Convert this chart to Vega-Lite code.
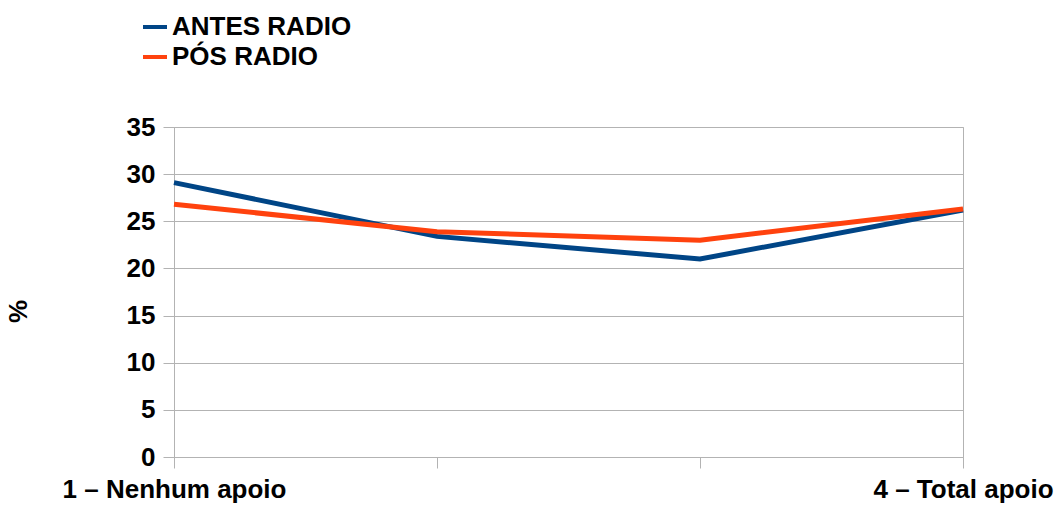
{
  "$schema": "https://vega.github.io/schema/vega-lite/v6.json",
  "width": 789,
  "height": 330,
  "autosize": {"type": "none"},
  "padding": {"left": 174, "top": 127, "right": 95, "bottom": 48},
  "background": "white",
  "config": {
    "font": "Liberation Sans",
    "view": {"stroke": "#b3b3b3", "strokeWidth": 1}
  },
  "data": {
    "values": [
      {"cat": "1 – Nenhum apoio", "order": 1, "serie": "ANTES RADIO", "valor": 29.1},
      {"cat": "2", "order": 2, "serie": "ANTES RADIO", "valor": 23.4},
      {"cat": "3", "order": 3, "serie": "ANTES RADIO", "valor": 21.0},
      {"cat": "4 – Total apoio", "order": 4, "serie": "ANTES RADIO", "valor": 26.2},
      {"cat": "1 – Nenhum apoio", "order": 1, "serie": "PÓS RADIO", "valor": 26.8},
      {"cat": "2", "order": 2, "serie": "PÓS RADIO", "valor": 23.9},
      {"cat": "3", "order": 3, "serie": "PÓS RADIO", "valor": 23.0},
      {"cat": "4 – Total apoio", "order": 4, "serie": "PÓS RADIO", "valor": 26.3}
    ]
  },
  "mark": {"type": "line", "strokeWidth": 5, "strokeJoin": "miter"},
  "encoding": {
    "x": {
      "field": "cat",
      "type": "ordinal",
      "sort": ["1 – Nenhum apoio", "2", "3", "4 – Total apoio"],
      "scale": {"type": "point", "padding": 0},
      "axis": {
        "title": null,
        "labelAngle": 0,
        "labelExpr": "datum.value == '2' || datum.value == '3' ? '' : datum.value",
        "labelFontSize": 26,
        "labelFontWeight": "bold",
        "labelColor": "black",
        "labelPadding": 8,
        "labelOverlap": false,
        "labelLimit": 600,
        "tickSize": 11,
        "tickColor": "#b3b3b3",
        "domainColor": "#b3b3b3",
        "grid": false
      }
    },
    "y": {
      "field": "valor",
      "type": "quantitative",
      "scale": {"domain": [0, 35], "nice": false},
      "axis": {
        "title": "%",
        "titleFontSize": 26,
        "titleFontWeight": "bold",
        "titleColor": "black",
        "titleX": -143,
        "titleY": 184,
        "values": [0, 5, 10, 15, 20, 25, 30, 35],
        "labelFontSize": 26,
        "labelFontWeight": "bold",
        "labelColor": "black",
        "labelPadding": 8,
        "tickSize": 11,
        "tickColor": "#b3b3b3",
        "domainColor": "#b3b3b3",
        "gridColor": "#b3b3b3"
      }
    },
    "color": {
      "field": "serie",
      "type": "nominal",
      "scale": {"domain": ["ANTES RADIO", "PÓS RADIO"], "range": ["#004586", "#ff420e"]},
      "legend": {
        "title": null,
        "orient": "none",
        "legendX": -33,
        "legendY": -114,
        "symbolType": "stroke",
        "symbolSize": 576,
        "symbolStrokeWidth": 4,
        "labelFontSize": 26,
        "labelFontWeight": "bold",
        "labelColor": "black",
        "labelOffset": 3,
        "rowPadding": 3,
        "labelLimit": 400
      }
    }
  }
}
